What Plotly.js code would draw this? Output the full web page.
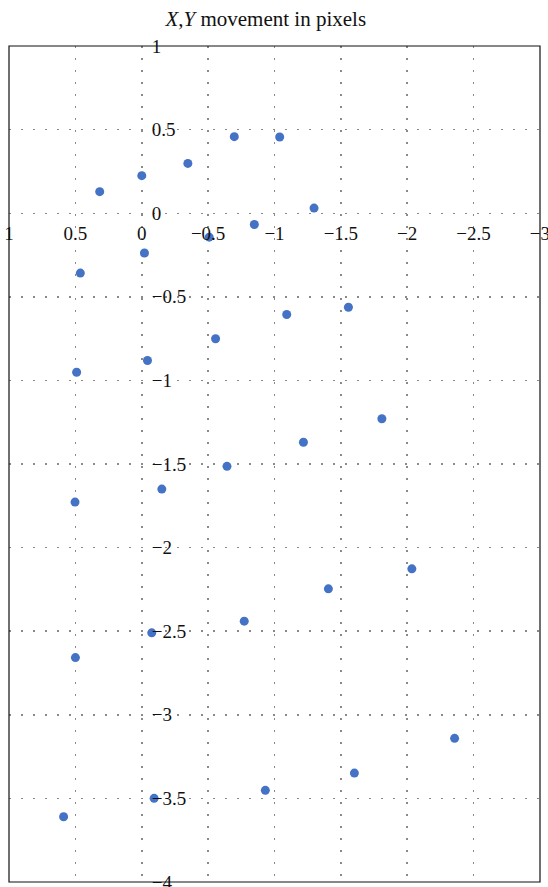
<!DOCTYPE html>
<html>
<head>
<meta charset="utf-8">
<script src="https://cdn.plot.ly/plotly-3.0.1.min.js"></script>
<style>
html,body{margin:0;padding:0;background:#fff;}
#chart{width:548px;height:887px;}
</style>
</head>
<body>
<div id="chart"></div>
<script>
// X,Y movement values (pixels)
const xValues = [
  0.317, 0.000, -0.347, -0.697, -1.039,
  -1.298, -0.848, -0.508, -0.020, 0.463,
  -1.557, -1.092, -0.556, -0.043, 0.491,
  -1.809, -1.218, -0.642, -0.151, 0.503,
  -2.035, -1.406, -0.772, -0.075, 0.500,
  -2.357, -1.602, -0.931, -0.093, 0.589
];
const yValues = [
  0.129, 0.225, 0.298, 0.458, 0.456,
  0.031, -0.067, -0.143, -0.238, -0.358,
  -0.562, -0.606, -0.751, -0.881, -0.951,
  -1.229, -1.370, -1.514, -1.650, -1.728,
  -2.127, -2.247, -2.440, -2.510, -2.658,
  -3.141, -3.349, -3.452, -3.500, -3.610
];
const xTickVals = [1, 0.5, 0, -0.5, -1, -1.5, -2, -2.5, -3];
const yTickVals = [1, 0.5, 0, -0.5, -1, -1.5, -2, -2.5, -3, -3.5, -4];
const xRange = [1.0005, -3.0005];
const yRange = [-4.0005, 1.0005];
const titleText = '<i>X</i>,<i>Y</i> movement in pixels';

const fontFam = '"Liberation Serif", "DejaVu Serif", serif';
const gridStyle = {
  showgrid: true,
  gridcolor: '#8a8a8a',
  gridwidth: 1.5,
  griddash: '1.5px,10.5px',
  zeroline: false,
  showline: false,
  ticks: '',
  tickmode: 'array',
  automargin: false,
  ticklabeloverflow: 'allow',
  tickfont: {family: fontFam, size: 19, color: '#111'},
  fixedrange: true
};

const trace = {
  type: 'scatter',
  mode: 'markers',
  x: xValues,
  y: yValues,
  marker: {size: 9, color: '#4472c4'},
  cliponaxis: false,
  hoverinfo: 'skip'
};

const layout = {
  width: 548,
  height: 887,
  margin: {l: 9, r: 8, t: 46, b: 5, pad: 0},
  paper_bgcolor: '#fff',
  plot_bgcolor: '#fff',
  showlegend: false,
  title: {
    text: titleText,
    font: {family: fontFam, size: 21, color: '#111'},
    x: 265 / 548, xanchor: 'center', xref: 'paper',
    y: 1 - 19 / 887, yanchor: 'middle', yref: 'container'
  },
  xaxis: Object.assign({}, gridStyle, {
    range: xRange,
    tickvals: xTickVals,
    ticktext: xTickVals.map(v => String(v).replace('-', '\u2212')),
    anchor: 'free',
    position: (0 - yRange[0]) / (yRange[1] - yRange[0]),
    side: 'bottom',
    ticklabelstandoff: 7
  }),
  yaxis: Object.assign({}, gridStyle, {
    range: yRange,
    tickvals: yTickVals,
    ticktext: yTickVals.map(v => String(v).replace('-', '\u2212')),
    anchor: 'free',
    position: (xRange[0] - 0) / (xRange[0] - xRange[1]),
    side: 'right',
    ticklabelstandoff: 9
  }),
  shapes: [{
    type: 'rect', xref: 'paper', yref: 'paper',
    x0: 0, x1: 1, y0: 0, y1: 1,
    line: {color: '#111', width: 1.2},
    layer: 'above'
  }]
};

Plotly.newPlot('chart', [trace], layout, {displayModeBar: false, staticPlot: true});
</script>
</body>
</html>
